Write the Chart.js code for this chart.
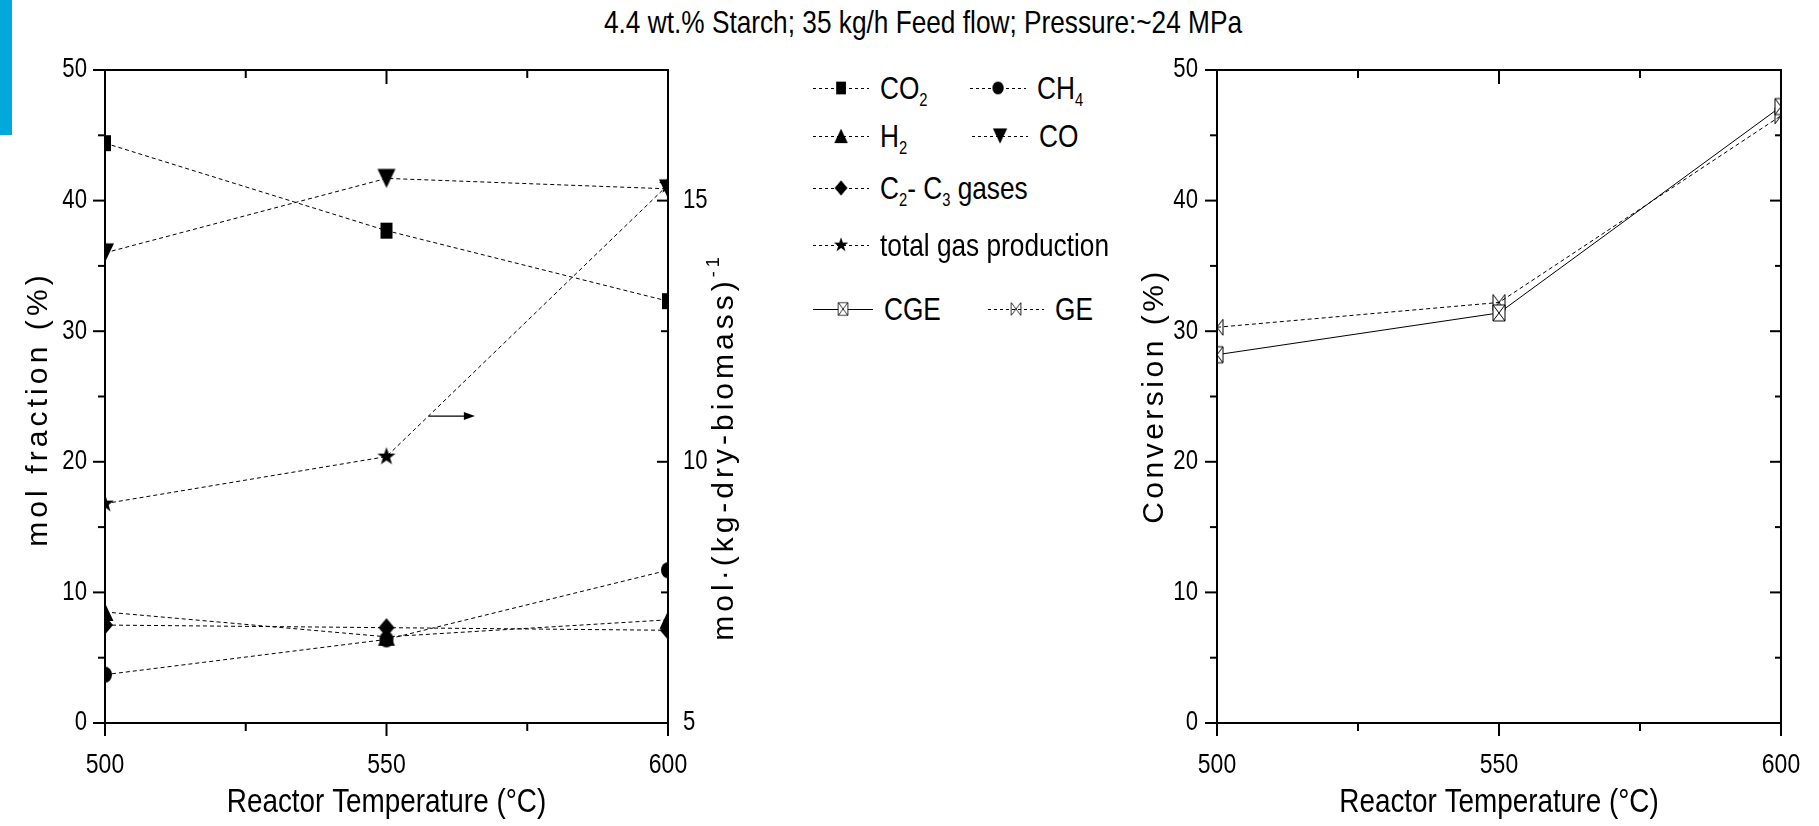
<!DOCTYPE html>
<html>
<head>
<meta charset="utf-8">
<title>Starch gasification</title>
<script src="https://cdn.jsdelivr.net/npm/chart.js@4.4.1/dist/chart.umd.min.js"></script>
<style>
  body { margin:0; width:1819px; height:826px; position:relative; overflow:hidden; background:#fff;
         font-family:"Liberation Sans",Arial,sans-serif; color:#000; }
  canvas.chart { position:absolute; top:0; }
  #bar { position:absolute; left:0; top:0; width:12px; height:135px; background:#00a8dc; }
  /* Arial Narrow non c'e': Liberation Sans schiacciato in orizzontale */
  #title { position:absolute; left:423px; top:6px; width:1000px; text-align:center; font-size:32px; line-height:32px;
           white-space:nowrap; transform:scaleX(0.82); transform-origin:50% 50%; }
  .ytitle { position:absolute; width:500px; height:40px; line-height:40px; text-align:center; white-space:nowrap;
            font-size:30px; transform:rotate(-90deg); }
  .leg { position:absolute; height:30px; display:flex; align-items:center; font-size:32px; white-space:nowrap; }
  .leg canvas { margin-right:11px; }
  .leg span { display:inline-block; transform:scaleX(0.82); transform-origin:0 50%; }
  sub { font-size:18px; vertical-align:-7px; line-height:0; }
  sup { font-size:18px; vertical-align:14px; line-height:0; }
</style>
</head>
<body>
<div id="bar"></div>
<div id="title">4.4 wt.% Starch; 35 kg/h Feed flow; Pressure:~24 MPa</div>

<canvas id="gasChart" class="chart" width="780" height="826" style="left:0"></canvas>
<canvas id="convChart" class="chart" width="709" height="826" style="left:1110px"></canvas>

<div class="ytitle" style="left:-213px;top:389px;letter-spacing:4.1px">mol fraction (%)</div>
<div class="ytitle" style="left:473px;top:427px;letter-spacing:4px">mol·(kg-dry-biomass)<sup>-1</sup></div>
<div class="ytitle" style="left:903px;top:376px;letter-spacing:3.5px">Conversion (%)</div>

<!-- legenda: campione linea + marker + testo -->
<div class="leg" style="left:813px;top:73px"><canvas data-kind="square" width="56" height="24"></canvas><span>CO<sub>2</sub></span></div>
<div class="leg" style="left:970px;top:73px"><canvas data-kind="circle" width="56" height="24"></canvas><span>CH<sub>4</sub></span></div>
<div class="leg" style="left:813px;top:121px"><canvas data-kind="up" width="56" height="24"></canvas><span>H<sub>2</sub></span></div>
<div class="leg" style="left:972px;top:121px"><canvas data-kind="down" width="56" height="24"></canvas><span>CO</span></div>
<div class="leg" style="left:813px;top:173px"><canvas data-kind="diamond" width="56" height="24"></canvas><span>C<sub>2</sub>- C<sub>3</sub> gases</span></div>
<div class="leg" style="left:813px;top:230px"><canvas data-kind="star" width="56" height="24"></canvas><span>total gas production</span></div>
<div class="leg" style="left:813px;top:294px"><canvas data-kind="boxx" data-solid="1" width="60" height="24"></canvas><span>CGE</span></div>
<div class="leg" style="left:988px;top:294px"><canvas data-kind="bowtie" width="56" height="24"></canvas><span>GE</span></div>

<script>
// dati
const temps = [500, 550, 600];
const co2 = [44.4, 37.7, 32.3];
const ch4 = [3.7, 6.4, 11.7];
const h2 = [8.5, 6.6, 7.9];
const co = [36.0, 41.7, 40.9];
const c2c3 = [7.5, 7.3, 7.1];
const totalGas = [9.2, 10.1, 15.3];   // asse destro, mol/(kg-dry-biomass)
const cge = [28.2, 31.4, 47.2];
const ge = [30.3, 32.2, 46.5];

// tick
const xTicks = { min: 500, max: 600, step: 25, labelEvery: 50 };
const gasTicks = { min: 0, max: 50, step: 5, labelEvery: 10 };
const prodTicks = { min: 5, max: 17.5, step: 2.5, labelEvery: 5 };
const convTicks = { min: 0, max: 50, step: 5, labelEvery: 10 };

// freccia che indica l'asse destro
const arrowFrom = [557.5, 23.5];
const arrowTo = [565.7, 23.5];

Chart.defaults.font.family = "'Liberation Sans', Arial, sans-serif";
Chart.defaults.color = '#000';
Chart.defaults.animation = false;

// testo del canvas schiacciato come un font "narrow"
function condense(canvas, k) {
  const ctx = canvas.getContext('2d');
  const fill = ctx.fillText.bind(ctx);
  ctx.fillText = function (text, x, y, maxWidth) {
    ctx.save();
    ctx.translate(x, y);
    ctx.scale(k, 1);
    if (maxWidth === undefined) fill(text, 0, 0);
    else fill(text, 0, 0, maxWidth / k);
    ctx.restore();
  };
}

// marker disegnati su un canvas piccolo
function makeMarker(kind) {
  const c = document.createElement('canvas');
  c.width = 22; c.height = 24;
  const g = c.getContext('2d');
  g.translate(11, 12);
  g.fillStyle = '#000';
  g.strokeStyle = '#000';
  g.lineWidth = 1;
  g.beginPath();
  if (kind === 'square') { g.rect(-6, -8, 12, 16); g.fill(); }
  else if (kind === 'circle') { g.ellipse(0, 0, 7, 8, 0, 0, 2 * Math.PI); g.fill(); }
  else if (kind === 'up') { g.moveTo(0, -9); g.lineTo(8.5, 9); g.lineTo(-8.5, 9); g.closePath(); g.fill(); }
  else if (kind === 'down') { g.moveTo(0, 9.5); g.lineTo(9, -9.5); g.lineTo(-9, -9.5); g.closePath(); g.fill(); }
  else if (kind === 'diamond') { g.moveTo(0, -9.5); g.lineTo(8, 0); g.lineTo(0, 9.5); g.lineTo(-8, 0); g.closePath(); g.fill(); }
  else if (kind === 'star') {
    for (let i = 0; i < 10; i++) {
      const r = i % 2 === 0 ? 9.5 : 3.8;
      const a = -Math.PI / 2 + i * Math.PI / 5;
      g.lineTo(r * Math.cos(a), r * Math.sin(a));
    }
    g.closePath(); g.fill();
  }
  else if (kind === 'boxx') {
    g.fillStyle = '#fff';
    g.rect(-6, -8, 12, 16); g.fill(); g.stroke();
    g.beginPath();
    g.moveTo(-6, -8); g.lineTo(6, 8);
    g.moveTo(6, -8); g.lineTo(-6, 8);
    g.stroke();
  }
  else if (kind === 'bowtie') {
    g.moveTo(-6, -8); g.lineTo(6, 8); g.lineTo(6, -8); g.lineTo(-6, 8); g.closePath();
    g.stroke();
  }
  return c;
}

// campioni della legenda
document.querySelectorAll('.leg canvas').forEach(cv => {
  const g = cv.getContext('2d');
  g.strokeStyle = '#000';
  g.lineWidth = 1;
  if (!cv.dataset.solid) g.setLineDash([3, 3]);
  g.beginPath();
  g.moveTo(0, 12.5); g.lineTo(cv.width, 12.5);
  g.stroke();
  const m = makeMarker(cv.dataset.kind);
  g.drawImage(m, cv.width / 2 - 8.8, 2.4, 17.6, 19.2);
});

const pts = (ys) => temps.map((t, i) => ({ x: t, y: ys[i] }));

function series(label, ys, kind, extra) {
  return Object.assign({
    label: label,
    data: pts(ys),
    borderColor: '#000',
    borderWidth: 1,
    borderDash: [4, 3],
    pointStyle: makeMarker(kind),
    pointRadius: 6,
    tension: 0,
    clip: 0
  }, extra || {});
}

function tickCb(every) {
  return v => (Math.abs(v % every) < 1e-9 ? v : '');
}

// cornice e tacche (esterne a sinistra/sotto, interne sopra/destra)
const frameTicks = {
  id: 'frameTicks',
  afterDraw(chart, args, opts) {
    const { ctx, chartArea: a, scales } = chart;
    const seg = (x1, y1, x2, y2) => { ctx.beginPath(); ctx.moveTo(x1, y1); ctx.lineTo(x2, y2); ctx.stroke(); };
    ctx.save();
    ctx.strokeStyle = '#000';
    ctx.lineWidth = 2;
    ctx.strokeRect(a.left, a.top, a.right - a.left, a.bottom - a.top);
    scales.x.ticks.forEach(t => {
      const px = scales.x.getPixelForValue(t.value);
      const big = t.value % xTicks.labelEvery === 0;
      seg(px, a.bottom, px, a.bottom + (big ? 13 : 8));
      if (px > a.left + 2 && px < a.right - 2) seg(px, a.top, px, a.top + (big ? 14 : 8));
    });
    scales.y.ticks.forEach(t => {
      const py = scales.y.getPixelForValue(t.value);
      const big = t.value % 10 === 0;
      seg(a.left - (big ? 12 : 7), py, a.left, py);
      if (!scales.y1) seg(a.right - (big ? 11 : 6), py, a.right, py);
    });
    if (scales.y1) {
      scales.y1.ticks.forEach(t => {
        const py = scales.y1.getPixelForValue(t.value);
        const big = t.value % prodTicks.labelEvery === 0;
        seg(a.right - (big ? 11 : 7), py, a.right, py);
      });
    }
    if (opts.arrow) {
      const x1 = scales.x.getPixelForValue(opts.arrow[0][0]);
      const x2 = scales.x.getPixelForValue(opts.arrow[1][0]);
      const yy = scales.y.getPixelForValue(opts.arrow[0][1]);
      ctx.lineWidth = 1.2;
      seg(x1, yy, x2 - 8, yy);
      ctx.fillStyle = '#000';
      ctx.beginPath();
      ctx.moveTo(x2, yy); ctx.lineTo(x2 - 11, yy - 4); ctx.lineTo(x2 - 11, yy + 4); ctx.closePath();
      ctx.fill();
    }
    ctx.restore();
  }
};

const hiddenGrid = { display: true, drawOnChartArea: false, drawTicks: true, tickLength: 12, tickColor: 'rgba(0,0,0,0)' };

function xScale() {
  return {
    type: 'linear', min: xTicks.min, max: xTicks.max,
    ticks: { stepSize: xTicks.step, callback: tickCb(xTicks.labelEvery), autoSkip: false, maxRotation: 0,
             font: { size: 28 }, padding: 12 },
    grid: Object.assign({}, hiddenGrid, { tickLength: 13 }),
    border: { display: false },
    title: { display: true, text: 'Reactor Temperature (°C)', font: { size: 34 }, padding: { top: 0, bottom: 3 } },
    afterFit: s => { s.height = 103; }
  };
}

const gasCanvas = document.getElementById('gasChart');
const convCanvas = document.getElementById('convChart');
condense(gasCanvas, 0.82);
condense(convCanvas, 0.82);

// grafico a sinistra: composizione gas + produzione totale
new Chart(gasCanvas, {
  type: 'line',
  data: {
    datasets: [
      series('CO2', co2, 'square'),
      series('CH4', ch4, 'circle'),
      series('H2', h2, 'up'),
      series('CO', co, 'down'),
      series('C2-C3 gases', c2c3, 'diamond'),
      series('total gas production', totalGas, 'star', { yAxisID: 'y1' })
    ]
  },
  options: {
    responsive: false,
    layout: { padding: { top: 70, left: 0, right: 0, bottom: 0 } },
    plugins: { legend: { display: false }, tooltip: { enabled: false }, frameTicks: { arrow: [arrowFrom, arrowTo] } },
    scales: {
      x: xScale(),
      y: {
        min: gasTicks.min, max: gasTicks.max,
        ticks: { stepSize: gasTicks.step, callback: tickCb(gasTicks.labelEvery), font: { size: 27 }, padding: 6 },
        grid: hiddenGrid, border: { display: false },
        afterFit: s => { s.width = 105; }
      },
      y1: {
        position: 'right',
        min: prodTicks.min, max: prodTicks.max,
        ticks: { stepSize: prodTicks.step, callback: tickCb(prodTicks.labelEvery), font: { size: 27 }, padding: 15 },
        grid: { display: true, drawOnChartArea: false, drawTicks: false },
        border: { display: false },
        afterFit: s => { s.width = 112; }
      }
    }
  },
  plugins: [frameTicks]
});

// grafico a destra: conversione
new Chart(convCanvas, {
  type: 'line',
  data: {
    datasets: [
      series('CGE', cge, 'boxx', { borderDash: [] }),
      series('GE', ge, 'bowtie')
    ]
  },
  options: {
    responsive: false,
    layout: { padding: { top: 70, left: 0, right: 38, bottom: 0 } },
    plugins: { legend: { display: false }, tooltip: { enabled: false }, frameTicks: {} },
    scales: {
      x: xScale(),
      y: {
        min: convTicks.min, max: convTicks.max,
        ticks: { stepSize: convTicks.step, callback: tickCb(convTicks.labelEvery), font: { size: 27 }, padding: 7 },
        grid: hiddenGrid, border: { display: false },
        afterFit: s => { s.width = 107; }
      }
    }
  },
  plugins: [frameTicks]
});
</script>
</body>
</html>
